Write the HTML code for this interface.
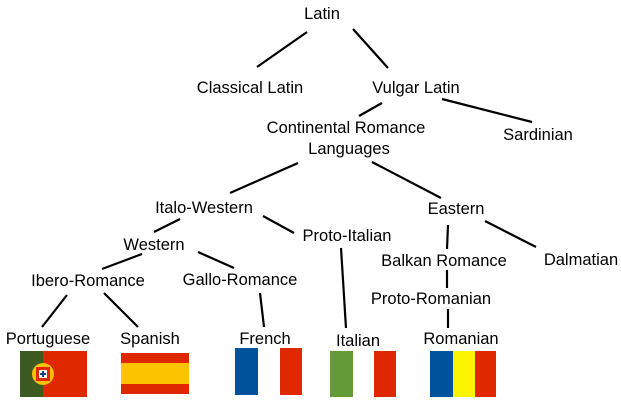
<!DOCTYPE html>
<html><head><style>html,body{margin:0;padding:0;background:#fff}svg{display:block}text{font-family:"Liberation Sans",Arial,sans-serif;font-size:16.5px;fill:#000;text-anchor:middle}</style></head>
<body>
<svg width="621" height="407" viewBox="0 0 621 407">
<g stroke="#000" stroke-width="2.2" stroke-linecap="butt">
<line x1="307" y1="32" x2="257" y2="67"/>
<line x1="353" y1="29" x2="388" y2="68"/>
<line x1="382" y1="103" x2="359" y2="116"/>
<line x1="442" y1="99" x2="532" y2="122"/>
<line x1="298" y1="163" x2="230" y2="193"/>
<line x1="372" y1="162" x2="441" y2="198"/>
<line x1="180" y1="219" x2="154" y2="232"/>
<line x1="263" y1="216" x2="294" y2="233"/>
<line x1="448" y1="225" x2="447" y2="249"/>
<line x1="485" y1="221" x2="536" y2="247"/>
<line x1="142" y1="254" x2="102" y2="269"/>
<line x1="198" y1="252" x2="234" y2="268"/>
<line x1="67" y1="295" x2="42" y2="327"/>
<line x1="104" y1="293" x2="138" y2="327"/>
<line x1="260" y1="293" x2="264" y2="327"/>
<line x1="341" y1="248" x2="346" y2="328"/>
<line x1="447" y1="270" x2="447" y2="288"/>
<line x1="448" y1="309" x2="448" y2="328"/>
</g>
<text x="322" y="19">Latin</text>
<text x="250" y="93">Classical Latin</text>
<text x="416" y="93">Vulgar Latin</text>
<text x="346" y="133">Continental Romance</text>
<text x="349" y="154">Languages</text>
<text x="538" y="140">Sardinian</text>
<text x="204" y="213">Italo-Western</text>
<text x="456" y="214">Eastern</text>
<text x="154" y="250">Western</text>
<text x="347" y="241">Proto-Italian</text>
<text x="444" y="266">Balkan Romance</text>
<text x="581" y="265">Dalmatian</text>
<text x="88" y="286">Ibero-Romance</text>
<text x="240" y="285">Gallo-Romance</text>
<text x="431" y="304">Proto-Romanian</text>
<text x="48" y="344">Portuguese</text>
<text x="150" y="344">Spanish</text>
<text x="265" y="344">French</text>
<text x="358" y="346">Italian</text>
<text x="461" y="344">Romanian</text>
<!-- Portugal -->
<rect x="20" y="351" width="23" height="46" fill="#3d5a20"/>
<rect x="43" y="351" width="44" height="46" fill="#e02800"/>
<circle cx="43" cy="374" r="11" fill="#f4c200"/>
<rect x="36" y="367" width="14" height="14" fill="#e02800"/>
<rect x="39" y="370" width="8" height="8" fill="#fff"/>
<rect x="42" y="371" width="2" height="6" fill="#1a3a8a"/>
<rect x="40" y="373" width="6" height="2" fill="#1a3a8a"/>
<!-- Spain -->
<rect x="121" y="353" width="68" height="41" fill="#e02800"/>
<rect x="121" y="363" width="68" height="21" fill="#fcc400"/>
<!-- France -->
<rect x="235" y="348" width="23" height="47" fill="#00529a"/>
<rect x="280" y="348" width="22" height="47" fill="#e02800"/>
<!-- Italy -->
<rect x="330" y="351" width="23" height="46" fill="#659a38"/>
<rect x="374" y="351" width="22" height="46" fill="#e02800"/>
<!-- Romania -->
<rect x="430" y="351" width="23" height="46" fill="#00529a"/>
<rect x="453" y="351" width="22" height="46" fill="#fcf400"/>
<rect x="475" y="351" width="21" height="46" fill="#e02800"/>
</svg>
</body></html>
